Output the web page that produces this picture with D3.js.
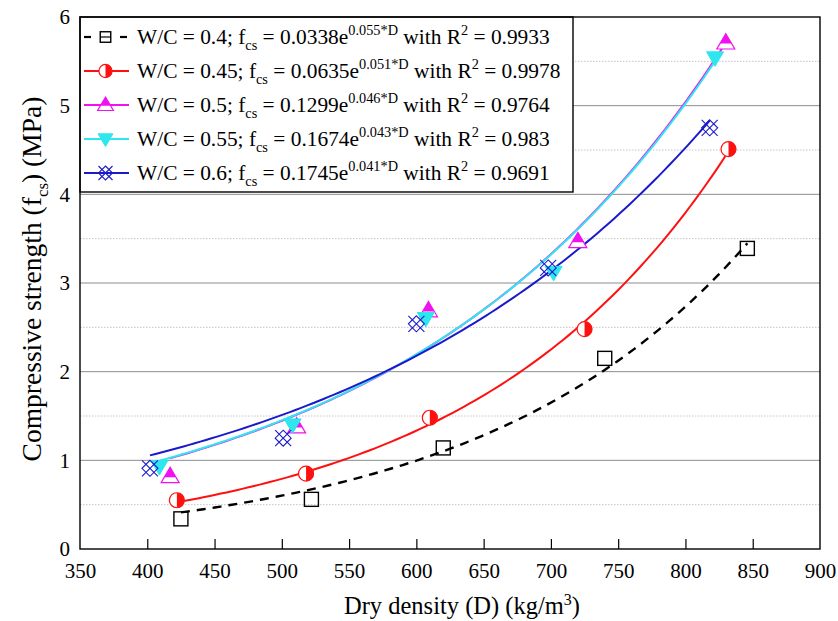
<!DOCTYPE html>
<html>
<head>
<meta charset="utf-8">
<script src="https://cdn.jsdelivr.net/npm/d3@7"></script>
<style>
  html, body { margin: 0; padding: 0; background: #fff; }
</style>
</head>
<body>
<svg id="chart" width="838" height="621"></svg>
<script>
// Dry density (kg/m3) and compressive strength (MPa) for each water/cement ratio
const wc04Density = [425, 522, 620, 740, 846];
const wc04Strength = [0.34, 0.56, 1.14, 2.15, 3.39];
const wc045Density = [422, 518, 610, 725, 832];
const wc045Strength = [0.55, 0.85, 1.48, 2.48, 4.51];
const wc05Density = [417, 511, 609, 720, 830];
const wc05Strength = [0.82, 1.38, 2.69, 3.47, 5.71];
const wc055Density = [409, 508, 607, 702, 822];
const wc055Strength = [0.93, 1.40, 2.60, 3.12, 5.54];
const wc06Density = [402, 501, 600, 698, 818];
const wc06Strength = [0.91, 1.25, 2.54, 3.17, 4.75];

const wcLabels = ["0.4", "0.45", "0.5", "0.55", "0.6"];
const fitCoefA = ["0.0338", "0.0635", "0.1299", "0.1674", "0.1745"];
const fitCoefB = ["0.055", "0.051", "0.046", "0.043", "0.041"];
const fitR2 = ["0.9933", "0.9978", "0.9764", "0.983", "0.9691"];

const xTicks = [350, 400, 450, 500, 550, 600, 650, 700, 750, 800, 850, 900];
const yTicks = [0, 1, 2, 3, 4, 5, 6];
const yMinorGrid = [0.5, 1.5, 2.5, 3.5, 4.5, 5.5];

const series = [
  { d: wc04Density, f: wc04Strength, color: "#000000", marker: "square", dashed: true },
  { d: wc045Density, f: wc045Strength, color: "#ff1010", marker: "halfCircle" },
  { d: wc05Density, f: wc05Strength, color: "#f010f0", marker: "halfTriangle" },
  { d: wc055Density, f: wc055Strength, color: "#2ee6ee", marker: "downTriangle" },
  { d: wc06Density, f: wc06Strength, color: "#1a1acc", marker: "crossed" }
];

const FONT = "'Liberation Serif'";
const svg = d3.select("#chart");
const pLeft = 80, pRight = 820, pTop = 17, pBottom = 549;

const x = d3.scaleLinear().domain([350, 900]).range([pLeft, pRight]);
const y = d3.scaleLinear().domain([0, 6]).range([pBottom, pTop]);

// Grid: solid at whole MPa, dotted at half MPa
svg.append("g").selectAll("line").data(yMinorGrid).join("line")
  .attr("x1", pLeft).attr("x2", pRight)
  .attr("y1", d => y(d)).attr("y2", d => y(d))
  .attr("stroke", "#c4c4c4").attr("stroke-width", 1).attr("stroke-dasharray", "1.5,1.5");
svg.append("g").selectAll("line").data(yTicks.filter(v => v > 0 && v < 6)).join("line")
  .attr("x1", pLeft).attr("x2", pRight)
  .attr("y1", d => y(d)).attr("y2", d => y(d))
  .attr("stroke", "#8c8c8c").attr("stroke-width", 1);

// Axes with inward ticks
const xAxis = d3.axisBottom(x).tickValues(xTicks).tickSize(-10).tickPadding(16).tickFormat(d3.format("d"));
const gx = svg.append("g").attr("transform", `translate(0,${pBottom})`).call(xAxis).attr("font-size", 21);
gx.select(".domain").remove();
gx.selectAll(".tick line").attr("stroke", "#000").attr("stroke-width", 1.2);
gx.selectAll(".tick text").attr("fill", "#000").attr("dy", "0.62em");
gx.selectAll(".tick").filter(d => d === 350 || d === 900).select("line").remove();

const yAxis = d3.axisLeft(y).tickValues(yTicks).tickSize(0).tickPadding(10).tickFormat(d3.format("d"));
const gy = svg.append("g").attr("transform", `translate(${pLeft},0)`).call(yAxis).attr("font-size", 21);
gy.select(".domain").remove();
gy.selectAll(".tick text").attr("fill", "#000");

// Exponential trend f = A·exp(b·(D − Dm)), least squares on the measured points
function expFit(xs, ys) {
  const xm = d3.mean(xs);
  const u = xs.map(v => v - xm);
  const ly = ys.map(Math.log);
  const lm = d3.mean(ly);
  let b = d3.sum(u.map((v, i) => v * (ly[i] - lm))) / d3.sum(u.map(v => v * v));
  let A = Math.exp(lm);
  for (let it = 0; it < 60; it++) {
    let s11 = 0, s12 = 0, s22 = 0, g1 = 0, g2 = 0;
    u.forEach((v, i) => {
      const e = Math.exp(b * v);
      const r = ys[i] - A * e;
      const j1 = e, j2 = A * v * e;
      s11 += j1 * j1; s12 += j1 * j2; s22 += j2 * j2;
      g1 += j1 * r; g2 += j2 * r;
    });
    const det = s11 * s22 - s12 * s12;
    if (!det) break;
    A += (s22 * g1 - s12 * g2) / det;
    b += (s11 * g2 - s12 * g1) / det;
  }
  return d => A * Math.exp(b * (d - xm));
}

const line = d3.line().x(p => x(p[0])).y(p => y(p[1])).curve(d3.curveLinear);
series.forEach(s => {
  const fn = expFit(s.d, s.f);
  const d0 = d3.min(s.d), d1 = d3.max(s.d);
  const pts = d3.range(0, 101).map(k => { const dv = d0 + (d1 - d0) * k / 100; return [dv, fn(dv)]; });
  svg.append("path").datum(pts).attr("d", line)
    .attr("fill", "none").attr("stroke", s.color)
    .attr("stroke-width", s.dashed ? 2.4 : 2)
    .attr("stroke-dasharray", s.dashed ? "9,7" : null);
});

// Marker glyphs
function drawMarker(g, type, color, sz) {
  const k = sz / 16;
  if (type === "square") {
    g.append("rect").attr("x", -7 * k).attr("y", -7 * k).attr("width", 14 * k).attr("height", 14 * k)
      .attr("fill", "none").attr("stroke", color).attr("stroke-width", 1.4);
  } else if (type === "halfCircle") {
    const r = 7.5 * k;
    g.append("circle").attr("r", r).attr("fill", "#fff").attr("stroke", color).attr("stroke-width", 1.2);
    g.append("path").attr("d", `M0,${-r}A${r},${r} 0 0,1 0,${r}Z`).attr("fill", color);
  } else if (type === "halfTriangle") {
    const h = 9 * k;
    g.append("path").attr("d", `M0,${-h}L${h},${h * 0.7}L${-h},${h * 0.7}Z`)
      .attr("fill", "#fff").attr("stroke", color).attr("stroke-width", 1.2);
    const yc = h * 0.1, w = h * (yc + h) / (1.7 * h);
    g.append("path").attr("d", `M0,${-h}L${w},${yc}L${-w},${yc}Z`).attr("fill", color);
  } else if (type === "downTriangle") {
    const h = 8.5 * k;
    g.append("path").attr("d", `M${-h},${-h * 0.7}L${h},${-h * 0.7}L0,${h}Z`)
      .attr("fill", color).attr("stroke", color).attr("stroke-width", 1);
  } else if (type === "crossed") {
    const h = 8 * k;
    g.append("path")
      .attr("d", `M${-h},${-h}L${h},${h}M${-h},${h}L${h},${-h}M0,${-h}L${h},0L0,${h}L${-h},0Z`)
      .attr("fill", "none").attr("stroke", color).attr("stroke-width", 1.1);
  }
}

series.forEach(s => {
  s.d.forEach((dv, i) => {
    const g = svg.append("g").attr("transform", `translate(${x(dv)},${y(s.f[i])})`);
    drawMarker(g, s.marker, s.color, 16);
  });
});

// Legend
const lg = svg.append("g");
lg.append("rect").attr("x", pLeft).attr("y", pTop).attr("width", 493).attr("height", 175)
  .attr("fill", "#fff").attr("stroke", "#000").attr("stroke-width", 1.4);
series.forEach((s, i) => {
  const cy = 37 + i * 34;
  const row = lg.append("g");
  if (s.dashed) {
    row.append("line").attr("x1", 84).attr("x2", 91).attr("y1", cy).attr("y2", cy).attr("stroke", s.color).attr("stroke-width", 2.2);
    row.append("line").attr("x1", 120).attr("x2", 127).attr("y1", cy).attr("y2", cy).attr("stroke", s.color).attr("stroke-width", 2.2);
    row.append("line").attr("x1", 100).attr("x2", 111).attr("y1", cy).attr("y2", cy).attr("stroke", s.color).attr("stroke-width", 1.2);
  } else {
    row.append("line").attr("x1", 84).attr("x2", 129).attr("y1", cy).attr("y2", cy).attr("stroke", s.color).attr("stroke-width", 2);
  }
  drawMarker(row.append("g").attr("transform", `translate(105.5,${cy})`), s.marker, s.color, s.dashed ? 12 : 14);

  const t = row.append("text").attr("x", 137).attr("y", cy + 7).attr("font-size", 21.4).attr("fill", "#000");
  t.append("tspan").text(`W/C = ${wcLabels[i]}; f`);
  t.append("tspan").attr("font-size", 14.3).attr("dy", 6).text("cs");
  t.append("tspan").attr("dy", -6).text(` = ${fitCoefA[i]}e`);
  t.append("tspan").attr("font-size", 14.3).attr("dy", -9).text(`${fitCoefB[i]}*D`);
  t.append("tspan").attr("dy", 9).text(" with R");
  t.append("tspan").attr("font-size", 14.3).attr("dy", -9).text("2");
  t.append("tspan").attr("dy", 9).text(` = ${fitR2[i]}`);
});

// Plot frame
svg.append("rect").attr("x", pLeft).attr("y", pTop).attr("width", pRight - pLeft).attr("height", pBottom - pTop)
  .attr("fill", "none").attr("stroke", "#000").attr("stroke-width", 1.4);

// Axis titles
const xt = svg.append("text").attr("x", 462).attr("y", 614).attr("text-anchor", "middle")
  .attr("font-size", 24.5).attr("fill", "#000");
xt.append("tspan").text("Dry density (D) (kg/m");
xt.append("tspan").attr("font-size", 16).attr("dy", -9).text("3");
xt.append("tspan").attr("dy", 9).text(")");

const yt = svg.append("text").attr("transform", "translate(41,279) rotate(-90)")
  .attr("text-anchor", "middle").attr("font-size", 27.5).attr("fill", "#000");
yt.append("tspan").text("Compressive strength (f");
yt.append("tspan").attr("font-size", 17).attr("dy", 7).text("cs");
yt.append("tspan").attr("dy", -7).text(") (MPa)");

// One serif face for every label
svg.selectAll("text").style("font-family", FONT);
</script>
</body>
</html>
